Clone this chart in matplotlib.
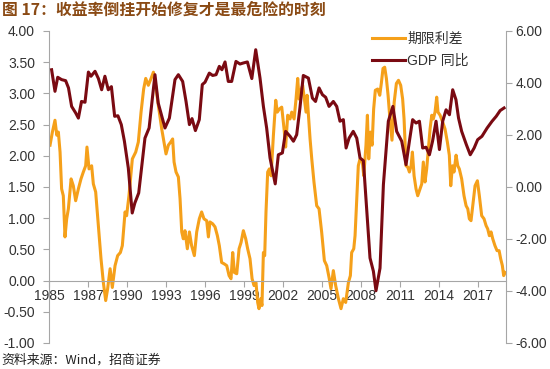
import matplotlib
matplotlib.use('Agg')
import matplotlib.pyplot as plt
from matplotlib.ticker import FormatStrFormatter

plt.rcParams['font.family'] = ['Liberation Sans', 'Noto Sans CJK SC']

# US GDP yoy (%), right axis
gdp_year = [1984.2, 1984.46, 1984.67, 1984.97, 1985.28, 1985.5, 1985.74, 1986.05, 1986.26, 1986.5,
            1986.77, 1987.03, 1987.23, 1987.54, 1987.8, 1988.05, 1988.3, 1988.56, 1988.8, 1989.05,
            1989.3, 1989.56, 1989.8, 1990.1, 1990.4, 1990.6, 1990.9, 1991.38, 1991.7, 1992.15,
            1992.4, 1992.92, 1993.26, 1993.69, 1993.95, 1994.28, 1994.54, 1994.8, 1995.0, 1995.26,
            1995.56, 1995.79, 1996.0, 1996.33, 1996.59, 1996.85, 1997.1, 1997.3, 1997.54, 1997.79,
            1998.05, 1998.38, 1998.69, 1998.95, 1999.26, 1999.6, 1999.9, 2000.23, 2000.49, 2000.74,
            2001.0, 2001.4, 2001.64, 2001.95, 2002.2, 2002.54, 2002.8, 2003.05, 2003.3, 2003.56,
            2003.95, 2004.26, 2004.5, 2004.77, 2005.03, 2005.28, 2005.54, 2005.87, 2006.13, 2006.38,
            2006.64, 2006.85, 2007.08, 2007.4, 2007.67, 2007.92, 2008.18, 2008.69, 2008.95, 2009.15,
            2009.46, 2009.72, 2010.1, 2010.45, 2010.74, 2011.13, 2011.46, 2011.72, 2011.97, 2012.23,
            2012.49, 2012.74, 2013.0, 2013.26, 2013.5, 2013.77, 2014.03, 2014.28, 2014.54, 2014.8,
            2015.05, 2015.3, 2015.5, 2015.74, 2016.1, 2016.4, 2016.7, 2016.97, 2017.3, 2017.7,
            2018.08, 2018.4, 2018.7, 2019.0]
gdp_val = [4.51, 3.68, 4.22, 4.13, 4.09, 3.81, 3.10, 2.85, 2.65, 3.29,
           3.26, 4.42, 4.26, 4.45, 4.17, 3.74, 4.26, 3.74, 3.86, 2.72,
           2.74, 2.40, 1.76, 0.73, -1.00, -0.62, -0.23, 1.88, 2.27, 4.32,
           3.23, 2.27, 2.65, 4.13, 4.32, 4.06, 3.29, 2.40, 2.63, 2.17,
           2.59, 3.94, 4.03, 4.38, 4.29, 4.32, 4.64, 4.51, 4.81, 4.06,
           4.06, 4.83, 4.73, 4.77, 4.81, 4.17, 5.28, 4.19, 3.10, 2.27,
           1.12, 0.12, 1.24, 1.31, 2.14, 1.95, 1.76, 2.01, 3.04, 4.29,
           4.19, 3.42, 3.29, 3.81, 3.55, 3.45, 3.10, 3.29, 3.10, 2.53,
           2.59, 1.50, 1.88, 2.14, 1.88, 1.12, 1.01, -2.73, -3.24, -3.99,
           -3.12, 0.09, 2.53, 3.10, 2.14, 1.76, 0.86, 1.76, 2.59, 2.46,
           2.53, 1.50, 1.53, 1.24, 1.76, 2.53, 1.44, 2.53, 2.97, 2.78,
           3.74, 3.36, 2.65, 2.14, 1.63, 1.24, 1.50, 1.82, 1.95, 2.27,
           2.53, 2.72, 2.94, 3.04]

# term spread (%), left axis
spread_year = [1984.08, 1984.26, 1984.46, 1984.6, 1984.72, 1984.85, 1984.97, 1985.1, 1985.23, 1985.36,
               1985.49, 1985.7, 1985.87, 1986.05, 1986.26, 1986.46, 1986.64, 1986.82, 1986.92, 1987.08,
               1987.28, 1987.41, 1987.59, 1987.8, 1988.0, 1988.18, 1988.36, 1988.51, 1988.7, 1988.87,
               1989.08, 1989.28, 1989.49, 1989.64, 1989.85, 1989.97, 1990.15, 1990.41, 1990.67, 1990.87,
               1991.08, 1991.28, 1991.44, 1991.64, 1991.85, 1992.03, 1992.2, 1992.41, 1992.67, 1992.8,
               1993.0, 1993.18, 1993.36, 1993.51, 1993.62, 1993.77, 1993.95, 1994.08, 1994.21, 1994.33,
               1994.46, 1994.64, 1994.8, 1994.97, 1995.18, 1995.36, 1995.56, 1995.74, 1995.92, 1996.13,
               1996.26, 1996.38, 1996.59, 1996.77, 1996.95, 1997.1, 1997.28, 1997.46, 1997.67, 1997.85,
               1998.0, 1998.13, 1998.26, 1998.44, 1998.62, 1998.77, 1998.95, 1999.13, 1999.28, 1999.46,
               1999.62, 1999.77, 1999.92, 2000.05, 2000.15, 2000.28, 2000.38, 2000.49, 2000.59, 2000.69,
               2000.82, 2000.95, 2001.08, 2001.26, 2001.44, 2001.56, 2001.72, 2001.9, 2002.08, 2002.2,
               2002.36, 2002.54, 2002.67, 2002.85, 2003.0, 2003.13, 2003.23, 2003.38, 2003.51, 2003.64,
               2003.77, 2003.85, 2003.95, 2004.08, 2004.21, 2004.38, 2004.59, 2004.77, 2004.97, 2005.18,
               2005.36, 2005.54, 2005.69, 2005.87, 2006.05, 2006.26, 2006.46, 2006.64, 2006.82, 2007.03,
               2007.18, 2007.28, 2007.44, 2007.54, 2007.67, 2007.79, 2007.92, 2008.1, 2008.21, 2008.38,
               2008.49, 2008.59, 2008.72, 2008.85, 2008.97, 2009.1, 2009.28, 2009.44, 2009.56, 2009.69,
               2009.82, 2009.95, 2010.08, 2010.2, 2010.38, 2010.55, 2010.72, 2010.88, 2011.05, 2011.2,
               2011.31, 2011.46, 2011.59, 2011.72, 2011.85, 2011.95, 2012.08, 2012.23, 2012.36, 2012.54,
               2012.67, 2012.79, 2012.92, 2013.05, 2013.18, 2013.31, 2013.44, 2013.56, 2013.69, 2013.82,
               2013.92, 2014.08, 2014.28, 2014.46, 2014.64, 2014.79, 2014.9, 2015.03, 2015.15, 2015.31,
               2015.44, 2015.56, 2015.74, 2015.92, 2016.08, 2016.21, 2016.33, 2016.46, 2016.59, 2016.77,
               2016.95, 2017.1, 2017.28, 2017.46, 2017.62, 2017.74, 2017.87, 2018.0, 2018.13, 2018.3,
               2018.46, 2018.62, 2018.74, 2018.87, 2018.97, 2019.08]
spread_val = [2.17, 2.38, 2.57, 2.33, 2.38, 2.06, 1.47, 1.36, 0.70, 0.99,
              1.15, 1.63, 1.52, 1.28, 1.47, 1.63, 1.74, 1.84, 2.14, 1.79,
              1.84, 1.55, 1.42, 0.88, 0.35, -0.03, -0.32, -0.13, 0.19, -0.11,
              0.24, 0.40, 0.45, 0.56, 1.10, 1.04, 1.36, 1.95, 2.06, 2.22,
              2.70, 3.07, 3.24, 3.13, 3.24, 3.34, 3.13, 2.81, 2.43, 2.27,
              2.03, 2.17, 2.22, 2.27, 1.90, 1.74, 1.66, 1.31, 0.78, 0.67,
              0.80, 0.51, 0.78, 0.56, 0.40, 0.78, 0.99, 1.10, 0.99, 0.96,
              0.70, 0.94, 0.91, 0.86, 0.72, 0.56, 0.29, 0.27, 0.24, 0.08,
              0.03, 0.45, 0.13, 0.11, 0.51, 0.61, 0.80, 0.67, 0.51, 0.35,
              0.03, -0.08, -0.03, -0.35, -0.45, -0.29, -0.40, 0.45, 0.40, 1.10,
              1.74, 1.79, 1.68, 2.33, 2.89, 2.70, 2.75, 2.78, 2.43, 2.14,
              2.65, 2.59, 2.70, 2.59, 2.91, 3.24, 2.91, 3.05, 3.13, 2.91,
              2.70, 2.97, 2.67, 2.27, 1.95, 1.58, 1.20, 1.15, 0.78, 0.32,
              0.24, 0.05, -0.13, 0.16, -0.08, -0.29, -0.45, -0.29, -0.35, -0.03,
              0.08, 0.45, 0.51, 0.72, 1.31, 1.84, 1.95, 1.90, 1.68, 2.17,
              2.65, 1.95, 2.38, 2.17, 2.75, 3.05, 3.07, 2.97, 3.16, 3.40,
              3.42, 3.24, 2.97, 2.65, 2.25, 2.86, 3.16, 3.21, 3.13, 2.91,
              2.59, 1.84, 1.82, 1.74, 1.84, 2.06, 1.68, 1.47, 1.36, 1.47,
              1.55, 1.90, 1.58, 1.79, 2.11, 2.43, 2.65, 2.59, 2.70, 2.94,
              2.70, 2.65, 2.54, 2.43, 2.22, 2.01, 1.52, 1.84, 1.74, 2.01,
              1.84, 1.79, 1.63, 1.36, 1.20, 1.15, 0.99, 0.96, 1.20, 1.52,
              1.60, 1.36, 1.04, 0.99, 0.88, 0.83, 0.72, 0.78, 0.67, 0.56,
              0.48, 0.48, 0.35, 0.24, 0.08, 0.13]

tick_pos = [1984, 1987, 1990, 1993, 1996, 1999, 2002, 2005, 2008, 2011, 2014, 2017]
tick_labels = ['1985', '1987', '1990', '1993', '1996', '1999', '2002', '2005', '2008', '2011', '2014', '2017']

orange = '#F5A01A'
darkred = '#7A0A12'
grey = '#A6A6A6'
txt = '#333333'

fig = plt.figure(figsize=(5.5, 3.69), dpi=100)
ax = fig.add_axes([49/550, 1 - 343/369, 457/550, 312/369])
ax2 = ax.twinx()

l1, = ax.plot(spread_year, spread_val, color=orange, lw=2.2, label='期限利差')
l2, = ax2.plot(gdp_year, gdp_val, color=darkred, lw=2.2, label='GDP 同比')

ax.set_xlim(1984, 2019.15)
ax.set_ylim(-1, 4)
ax.set_yticks([-1, -0.5, 0, 0.5, 1, 1.5, 2, 2.5, 3, 3.5, 4])
ax.yaxis.set_major_formatter(FormatStrFormatter('%.2f'))
ax2.set_ylim(-6, 6)
ax2.set_yticks([-6, -4, -2, 0, 2, 4, 6])
ax2.yaxis.set_major_formatter(FormatStrFormatter('%.2f'))
ax.set_xticks(tick_pos)
ax.set_xticklabels(tick_labels)

for a in (ax, ax2):
    a.spines['top'].set_visible(False)
    a.spines['bottom'].set_visible(False)
    a.spines['left'].set_color(grey)
    a.spines['right'].set_color(grey)
ax.spines['right'].set_visible(False)
ax2.spines['left'].set_visible(False)
ax.spines['bottom'].set_visible(True)
ax.spines['bottom'].set_position(('data', 0))
ax.spines['bottom'].set_color(grey)

ax.tick_params(axis='y', length=4, width=0.8, color=grey, pad=6, labelsize=10, labelcolor=txt)
ax.tick_params(axis='x', length=4, width=0.8, color=grey, pad=2, labelsize=10, labelcolor=txt)
ax2.tick_params(axis='y', length=4, width=0.8, color=grey, pad=3, labelsize=10, labelcolor=txt)

leg = ax2.legend(handles=[l1, l2], loc='upper left', bbox_to_anchor=(372/550, 1 - 32/369),
                 bbox_transform=fig.transFigure, frameon=False, fontsize=10,
                 handlelength=2.4, handletextpad=0.15, borderpad=0, borderaxespad=0,
                 labelspacing=0.55)
for t in leg.get_texts():
    t.set_color(txt)

fig.text(0.004, 1 - 10/369, '图 17：收益率倒挂开始修复才是最危险的时刻', fontsize=11.4,
         fontweight='bold', color='#8A4A14', va='center', ha='left',
         family=['Noto Sans CJK SC'])
fig.text(0.002, 1 - 360/369, '资料来源：Wind，招商证券', fontsize=9.3, color='#222222',
         va='center', ha='left', family=['Noto Sans CJK SC', 'Liberation Sans'])

fig.savefig('out.png', dpi=100)
